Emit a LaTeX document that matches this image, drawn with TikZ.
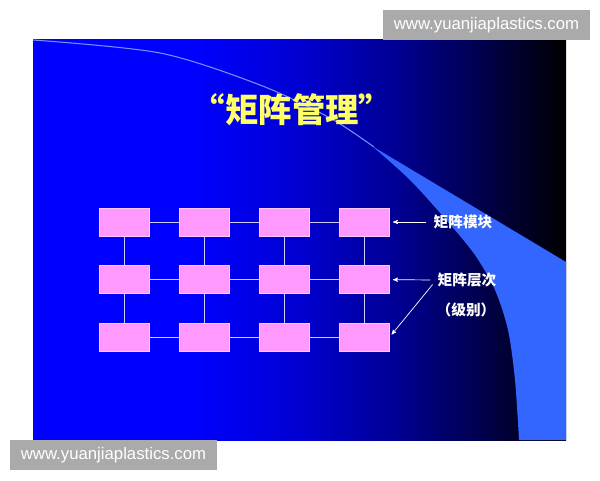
\documentclass[tikz,border=0pt]{standalone}
\usepackage{fontspec}
\setmainfont{Liberation Sans}
\newfontfamily\cjk{Noto Sans CJK SC}
\usetikzlibrary{arrows}
\definecolor{slideblue}{RGB}{0,0,255}
\definecolor{swoosh}{RGB}{51,102,255}
\definecolor{boxpink}{RGB}{255,153,255}
\definecolor{linklilac}{RGB}{204,204,255}
\definecolor{titleyellow}{RGB}{255,255,102}
\definecolor{markgray}{RGB}{170,170,170}
\pgfdeclarehorizontalshading{slidebg}{100bp}{color(0bp)=(slideblue); color(40bp)=(slideblue);
    color(50bp)=(slideblue!82!black); color(59bp)=(slideblue!58!black);
    color(67bp)=(slideblue!30!black); color(75bp)=(black); color(100bp)=(black)}
\tikzset{
    % node styles
    block/.style = {minimum width=1.5cm, minimum height=0.84cm, inner sep=0pt, line width=0.6pt, draw=white!45!boxpink, fill=boxpink},
    note/.style = {inner sep=1pt, text=white, font=\cjk\bfseries\fontsize{12.5}{15}\selectfont},
    heading/.style = {inner sep=0pt, text=titleyellow, font=\cjk\bfseries\fontsize{28.5}{32}\selectfont},
    watermark/.style = {minimum width=6.21cm, minimum height=0.9cm, inner sep=0pt, fill=markgray, text=white, font=\fontsize{14.3}{16}\selectfont},
    % line styles
    link/.style = {draw=linklilac, line width=0.8pt},
    post/.style = {->, shorten >=3pt, shorten <=5pt, draw=white, line width=0.6pt, >=stealth'}
}

\begin{document}
\begin{tikzpicture}[x=0.03cm, y=-0.03cm, node distance=2.4cm]
        \useasboundingbox (0,0) rectangle (600,480);
        
        % slide background
        \shade[shading=slidebg] (33,40) rectangle (566,440);
        \draw[swoosh!70!white, line width=0.9pt] plot[smooth] coordinates {(33,40) (160,53) (260,85) (330,118) (374,147)};
        \fill[swoosh] plot[smooth] coordinates {(372,146) (410,180) (448,222) (475,255) (495,290)
            (508,330) (515,380) (519,440)}
            -- (566,440) -- (566,262) -- cycle;
        
        % title
        \node[heading] (title) at (292,110) {“矩阵管理”};
        
        % first row
        \node[block] (m11) at (124,222) {};
        \node[block] (m12) [right of=m11] {}
            edge[link] (m11);
        \node[block] (m13) [right of=m12] {}
            edge[link] (m12);
        \node[block] (m14) [right of=m13] {}
            edge[link] (m13);
        
        % second row
        \node[block] (m21) [node distance=1.73cm, below of=m11] {}
            edge[link] (m11);
        \node[block] (m22) [right of=m21] {}
            edge[link] (m21)
            edge[link] (m12);
        \node[block] (m23) [right of=m22] {}
            edge[link] (m22)
            edge[link] (m13);
        \node[block] (m24) [right of=m23] {}
            edge[link] (m23)
            edge[link] (m14);
        
        % third row
        \node[block] (m31) [node distance=1.73cm, below of=m21] {}
            edge[link] (m21);
        \node[block] (m32) [right of=m31] {}
            edge[link] (m31)
            edge[link] (m22);
        \node[block] (m33) [right of=m32] {}
            edge[link] (m32)
            edge[link] (m23);
        \node[block] (m34) [right of=m33] {}
            edge[link] (m33)
            edge[link] (m24);
        
        % labels and arrows
        \node[note] (module) at (463,222) {矩阵模块};
        \node[note] (level) at (467,280) {矩阵层次};
        \node[note] (grade) at (466,310) {（级别）};
        \draw[post] (module.west) -- (m14.east);
        \draw[post] (level.west) -- (m24.east);
        \draw[post] (level.west) -- (m34.east);
        
        % watermarks
        \node[watermark] (mark1) at (486.5,25) {www.yuanjiaplastics.com};
        \node[watermark] (mark2) at (113.5,455) {www.yuanjiaplastics.com};
        
    \end{tikzpicture}
\end{document}
